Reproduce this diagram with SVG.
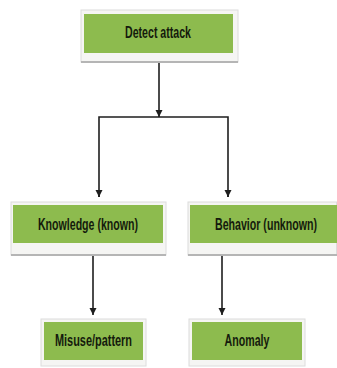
<svg xmlns="http://www.w3.org/2000/svg" width="337" height="368" viewBox="0 0 337 368">
<defs>
<style>
.frame{fill:#f5f5f3;stroke:#dcdcdc;stroke-width:1}
.shadow{fill:none;stroke:#b5b5b5;stroke-width:2}
.box{fill:#8dbb4e}
.lbl{font-family:"Liberation Sans",Arial,sans-serif;font-weight:bold;font-size:16.5px;fill:#141a0c;text-anchor:middle}
.conn{fill:none;stroke:#1e1e1e;stroke-width:1.6}
</style>
<marker id="ah" viewBox="0 0 10 10" refX="10" refY="5" markerWidth="7" markerHeight="9" markerUnits="userSpaceOnUse" orient="auto">
<path d="M0,0 L10,5 L0,10 z" fill="#1e1e1e"/>
</marker>
</defs>
<rect width="337" height="368" fill="#ffffff"/>
<g id="connectors">
<line class="conn" x1="159" y1="55" x2="159" y2="117" marker-end="url(#ah)"/>
<polyline class="conn" points="99,197 99,117 228,117 228,197"/>
<line class="conn" x1="99" y1="190" x2="99" y2="197" marker-end="url(#ah)"/>
<line class="conn" x1="228" y1="190" x2="228" y2="197" marker-end="url(#ah)"/>
<line class="conn" x1="93" y1="245" x2="93" y2="315" marker-end="url(#ah)"/>
<line class="conn" x1="222" y1="245" x2="222" y2="315" marker-end="url(#ah)"/>
</g>
<g id="detect">
<rect class="frame" x="81" y="10" width="157" height="52"/>
<line class="shadow" x1="81" y1="62" x2="238" y2="62"/>
<rect class="box" x="84" y="14" width="149" height="39"/>
<text class="lbl" transform="translate(158 38) scale(0.65 1)" x="0" y="0" textLength="101.5" lengthAdjust="spacingAndGlyphs">Detect attack</text>
</g>
<g id="knowledge">
<rect class="frame" x="11" y="202" width="155" height="53"/>
<line class="shadow" x1="11" y1="255" x2="166" y2="255"/>
<rect class="box" x="13" y="205" width="150" height="38"/>
<text class="lbl" transform="translate(88 230) scale(0.65 1)" x="0" y="0" textLength="154" lengthAdjust="spacingAndGlyphs">Knowledge (known)</text>
</g>
<g id="behavior">
<rect class="frame" x="188" y="202" width="148.5" height="53"/>
<line class="shadow" x1="188" y1="255" x2="337" y2="255"/>
<rect class="box" x="190" y="205" width="147" height="38"/>
<text class="lbl" transform="translate(266 230) scale(0.65 1)" x="0" y="0" textLength="157" lengthAdjust="spacingAndGlyphs">Behavior (unknown)</text>
</g>
<g id="misuse">
<rect class="frame" x="41" y="319" width="105" height="47"/>
<rect class="box" x="44" y="322" width="99" height="38"/>
<text class="lbl" transform="translate(93.5 346) scale(0.65 1)" x="0" y="0" textLength="118.5" lengthAdjust="spacingAndGlyphs">Misuse/pattern</text>
</g>
<g id="anomaly">
<rect class="frame" x="189" y="319" width="116" height="47"/>
<rect class="box" x="192" y="322" width="110" height="38"/>
<text class="lbl" transform="translate(247 346) scale(0.65 1)" x="0" y="0" textLength="69" lengthAdjust="spacingAndGlyphs">Anomaly</text>
</g>
</svg>
